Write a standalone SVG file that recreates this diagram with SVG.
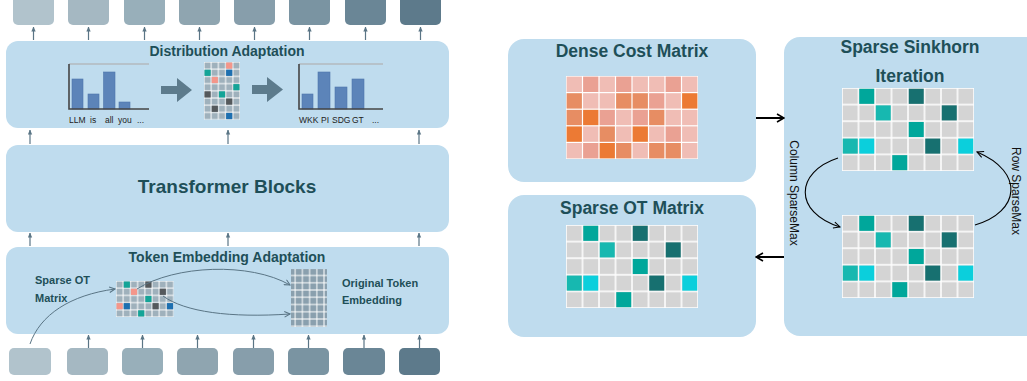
<svg xmlns="http://www.w3.org/2000/svg" xmlns:xlink="http://www.w3.org/1999/xlink" width="1027" height="381" viewBox="0 0 1027 381">
<style>
.panel{fill:#bfdcee}
.t{font-family:"Liberation Sans",Arial,sans-serif;font-weight:bold;fill:#1e4f58}
.lab{font-family:"Liberation Sans",Arial,sans-serif;font-size:8.5px;fill:#222}
.rot{font-family:"Liberation Sans",Arial,sans-serif;font-size:12px;fill:#111}
.sl{stroke:#5a7585;stroke-width:1.2;fill:none}
.bk{stroke:#000;fill:none}
.bar{fill:#5c84b9;stroke:#4f77ab;stroke-width:0.6}
.ax{stroke:#454545;stroke-width:1.6;fill:none}
.topl{stroke:#b3babe;stroke-width:1.5}
.fat{fill:#5d7b8c}
.sal{fill:#f4968a}.tea{fill:#14a497}.blu{fill:#1d6fb0}.drk{fill:#55595c}
.T{fill:#00a79b}.D{fill:#177070}.LT{fill:#17b8b0}.C{fill:#0bcfdc}
.L{fill:#f0bdb5}.M{fill:#eaa193}.O{fill:#e78d63}.S{fill:#ec7a34}
</style>
<defs>
<pattern id="gL" width="16.5" height="16.6" patternUnits="userSpaceOnUse"><rect width="16.5" height="16.6" fill="#fff"/><rect x="0.75" y="0.75" width="15" height="15.1" fill="#d4d4d4"/></pattern>
<pattern id="gS" width="7.2" height="7.2" patternUnits="userSpaceOnUse"><rect width="7.2" height="7.2" fill="#fff"/><rect x="0.5" y="0.5" width="6.2" height="6.2" fill="#9fb1bc"/></pattern>
<pattern id="gE" width="7.2" height="7.25" patternUnits="userSpaceOnUse"><rect width="7.2" height="7.25" fill="#fff"/><rect x="0.5" y="0.5" width="6.2" height="6.25" fill="#8aa0ae"/></pattern>
<marker id="sa" viewBox="0 0 6 6" refX="5.5" refY="3" markerWidth="5" markerHeight="5" orient="auto" markerUnits="userSpaceOnUse"><path d="M0,0.4 L6,3 L0,5.6z" fill="#5a7585"/></marker>
<marker id="sc" viewBox="0 0 10 10" refX="9" refY="5" markerWidth="7" markerHeight="7" orient="auto" markerUnits="userSpaceOnUse"><path d="M1,1 L9,5 L1,9" fill="none" stroke="#5a7585" stroke-width="1.5"/></marker>
<marker id="ah" viewBox="0 0 10 10" refX="9" refY="5" markerWidth="10" markerHeight="10" orient="auto" markerUnits="userSpaceOnUse"><path d="M2,1 L9,5 L2,9" fill="none" stroke="#000" stroke-width="1.6"/></marker>
<marker id="ac" viewBox="0 0 10 10" refX="9" refY="5" markerWidth="8" markerHeight="8" orient="auto" markerUnits="userSpaceOnUse"><path d="M1,1 L9,5 L1,9" fill="none" stroke="#000" stroke-width="1.3"/></marker>
<g id="sparseM">
<rect width="132" height="83" fill="url(#gL)"/>
<rect class="T" x="17.25" y="0.75" width="15" height="15.1"/>
<rect class="D" x="66.75" y="0.75" width="15" height="15.1"/>
<rect class="LT" x="33.75" y="17.35" width="15" height="15.1"/>
<rect class="D" x="99.75" y="17.35" width="15" height="15.1"/>
<rect class="T" x="66.75" y="33.95" width="15" height="15.1"/>
<rect class="LT" x="0.75" y="50.55" width="15" height="15.1"/>
<rect class="C" x="17.25" y="50.55" width="15" height="15.1"/>
<rect class="D" x="83.25" y="50.55" width="15" height="15.1"/>
<rect class="C" x="116.25" y="50.55" width="15" height="15.1"/>
<rect class="T" x="50.25" y="67.15" width="15" height="15.1"/>
</g>
</defs>

<g id="outputs">
<rect x="13" y="-4" width="41" height="29" rx="5" fill="#b1c3cc"/>
<rect x="68" y="-4" width="41" height="29" rx="5" fill="#a5b8c2"/>
<rect x="124" y="-4" width="41" height="29" rx="5" fill="#98afba"/>
<rect x="179" y="-4" width="41" height="29" rx="5" fill="#8fa5b0"/>
<rect x="234" y="-4" width="41" height="29" rx="5" fill="#879eab"/>
<rect x="289" y="-4" width="41" height="29" rx="5" fill="#7a94a2"/>
<rect x="345" y="-4" width="41" height="29" rx="5" fill="#6a8696"/>
<rect x="400" y="-4" width="41" height="29" rx="5" fill="#5d7a8b"/>
</g>

<g id="distribution-adaptation">
<rect class="panel" x="6" y="41" width="443" height="87" rx="12"/>
<text class="t" x="227" y="56" font-size="14" text-anchor="middle">Distribution Adaptation</text>
<line class="topl" x1="69" y1="64" x2="149" y2="64"/>
<rect class="bar" x="72" y="79" width="11" height="30"/>
<rect class="bar" x="88" y="94" width="11" height="15"/>
<rect class="bar" x="103.5" y="72" width="11.5" height="37"/>
<rect class="bar" x="119" y="102" width="11" height="7"/>
<path class="ax" d="M69,64 V109 H149"/>
<text class="lab" x="69" y="123">LLM</text>
<text class="lab" x="90" y="123">is</text>
<text class="lab" x="105" y="123">all</text>
<text class="lab" x="118" y="123">you</text>
<text class="lab" x="137" y="123">...</text>
<polygon class="fat" points="161,86 177,86 177,78 192,90 177,102 177,94 161,94"/>
<g transform="translate(204,62)">
<rect width="36" height="57.6" fill="url(#gS)"/>
<rect class="sal" x="22.1" y="0.5" width="6.2" height="6.2"/>
<rect class="tea" x="0.5" y="7.7" width="6.2" height="6.2"/>
<rect class="blu" x="22.1" y="7.7" width="6.2" height="6.2"/>
<rect class="sal" x="7.7" y="14.9" width="6.2" height="6.2"/>
<rect class="tea" x="29.3" y="22.1" width="6.2" height="6.2"/>
<rect class="drk" x="0.5" y="29.3" width="6.2" height="6.2"/>
<rect class="tea" x="14.9" y="29.3" width="6.2" height="6.2"/>
<rect class="drk" x="22.1" y="36.5" width="6.2" height="6.2"/>
<rect class="drk" x="7.7" y="43.7" width="6.2" height="6.2"/>
<rect class="blu" x="22.1" y="50.9" width="6.2" height="6.2"/>
</g>
<polygon class="fat" points="252,85 267,85 267,77 283,89.5 267,102 267,94 252,94"/>
<line class="topl" x1="299" y1="64" x2="383" y2="64"/>
<rect class="bar" x="302" y="94" width="11" height="15"/>
<rect class="bar" x="318" y="72" width="12" height="37"/>
<rect class="bar" x="335" y="87" width="12" height="22"/>
<rect class="bar" x="352" y="79" width="12" height="30"/>
<path class="ax" d="M299,64 V109 H383"/>
<text class="lab" x="299" y="123">WKK</text>
<text class="lab" x="321" y="123">PI</text>
<text class="lab" x="332" y="123">SDG</text>
<text class="lab" x="352" y="123">GT</text>
<text class="lab" x="372" y="123">...</text>
</g>

<g id="transformer-blocks">
<rect class="panel" x="6" y="145" width="443" height="87" rx="12"/>
<text class="t" x="227" y="193" font-size="19" text-anchor="middle">Transformer Blocks</text>
</g>

<g id="token-embedding-adaptation">
<rect class="panel" x="6" y="247" width="443" height="87" rx="12"/>
<text class="t" x="227" y="262" font-size="14" text-anchor="middle">Token Embedding Adaptation</text>
<text class="t" x="35" y="284" font-size="11">Sparse OT</text>
<text class="t" x="35" y="302" font-size="11">Matrix</text>
<text class="t" x="342" y="287" font-size="11">Original Token</text>
<text class="t" x="342" y="304" font-size="11">Embedding</text>
<g transform="translate(116,281)">
<rect width="57.6" height="36" fill="url(#gS)"/>
<rect class="tea" x="7.7" y="0.5" width="6.2" height="6.2"/>
<rect class="drk" x="29.3" y="0.5" width="6.2" height="6.2"/>
<rect class="sal" x="14.9" y="7.7" width="6.2" height="6.2"/>
<rect class="drk" x="43.7" y="7.7" width="6.2" height="6.2"/>
<rect class="tea" x="29.3" y="14.9" width="6.2" height="6.2"/>
<rect class="sal" x="0.5" y="22.1" width="6.2" height="6.2"/>
<rect class="blu" x="7.7" y="22.1" width="6.2" height="6.2"/>
<rect class="drk" x="36.5" y="22.1" width="6.2" height="6.2"/>
<rect class="blu" x="50.9" y="22.1" width="6.2" height="6.2"/>
<rect class="tea" x="22.1" y="29.3" width="6.2" height="6.2"/>
</g>
<rect x="291" y="269" width="36" height="58" fill="url(#gE)"/>
</g>

<g id="inputs">
<rect x="9" y="348" width="42" height="27" rx="5" fill="#b1c3cc"/>
<rect x="67" y="348" width="41" height="27" rx="5" fill="#a5b8c2"/>
<rect x="122" y="348" width="41" height="27" rx="5" fill="#98afba"/>
<rect x="177" y="348" width="41" height="27" rx="5" fill="#8fa5b0"/>
<rect x="233" y="348" width="41" height="27" rx="5" fill="#879eab"/>
<rect x="288" y="348" width="41" height="27" rx="5" fill="#7a94a2"/>
<rect x="343" y="348" width="42" height="27" rx="5" fill="#6a8696"/>
<rect x="399" y="348" width="41" height="27" rx="5" fill="#5d7a8b"/>
</g>

<g id="dense-cost-matrix">
<rect class="panel" x="508" y="39" width="248" height="143" rx="16"/>
<text class="t" x="632" y="57" font-size="17.5" text-anchor="middle">Dense Cost Matrix</text>
<g transform="translate(566,76)">
<rect width="132" height="83" fill="#fff"/>
<rect class="L" x="0.6" y="0.6" width="15.3" height="15.4"/><rect class="M" x="17.1" y="0.6" width="15.3" height="15.4"/><rect class="L" x="33.6" y="0.6" width="15.3" height="15.4"/><rect class="M" x="50.1" y="0.6" width="15.3" height="15.4"/><rect class="L" x="66.6" y="0.6" width="15.3" height="15.4"/><rect class="L" x="83.1" y="0.6" width="15.3" height="15.4"/><rect class="M" x="99.6" y="0.6" width="15.3" height="15.4"/><rect class="L" x="116.1" y="0.6" width="15.3" height="15.4"/>
<rect class="O" x="0.6" y="17.2" width="15.3" height="15.4"/><rect class="L" x="17.1" y="17.2" width="15.3" height="15.4"/><rect class="L" x="33.6" y="17.2" width="15.3" height="15.4"/><rect class="O" x="50.1" y="17.2" width="15.3" height="15.4"/><rect class="O" x="66.6" y="17.2" width="15.3" height="15.4"/><rect class="M" x="83.1" y="17.2" width="15.3" height="15.4"/><rect class="L" x="99.6" y="17.2" width="15.3" height="15.4"/><rect class="S" x="116.1" y="17.2" width="15.3" height="15.4"/>
<rect class="O" x="0.6" y="33.8" width="15.3" height="15.4"/><rect class="S" x="17.1" y="33.8" width="15.3" height="15.4"/><rect class="M" x="33.6" y="33.8" width="15.3" height="15.4"/><rect class="L" x="50.1" y="33.8" width="15.3" height="15.4"/><rect class="M" x="66.6" y="33.8" width="15.3" height="15.4"/><rect class="O" x="83.1" y="33.8" width="15.3" height="15.4"/><rect class="L" x="99.6" y="33.8" width="15.3" height="15.4"/><rect class="L" x="116.1" y="33.8" width="15.3" height="15.4"/>
<rect class="S" x="0.6" y="50.4" width="15.3" height="15.4"/><rect class="L" x="17.1" y="50.4" width="15.3" height="15.4"/><rect class="O" x="33.6" y="50.4" width="15.3" height="15.4"/><rect class="L" x="50.1" y="50.4" width="15.3" height="15.4"/><rect class="S" x="66.6" y="50.4" width="15.3" height="15.4"/><rect class="L" x="83.1" y="50.4" width="15.3" height="15.4"/><rect class="M" x="99.6" y="50.4" width="15.3" height="15.4"/><rect class="L" x="116.1" y="50.4" width="15.3" height="15.4"/>
<rect class="L" x="0.6" y="67" width="15.3" height="15.4"/><rect class="M" x="17.1" y="67" width="15.3" height="15.4"/><rect class="S" x="33.6" y="67" width="15.3" height="15.4"/><rect class="O" x="50.1" y="67" width="15.3" height="15.4"/><rect class="L" x="66.6" y="67" width="15.3" height="15.4"/><rect class="O" x="83.1" y="67" width="15.3" height="15.4"/><rect class="O" x="99.6" y="67" width="15.3" height="15.4"/><rect class="L" x="116.1" y="67" width="15.3" height="15.4"/>
</g>
</g>

<g id="sparse-ot-matrix">
<rect class="panel" x="508" y="195" width="248" height="142" rx="16"/>
<text class="t" x="632" y="214" font-size="17.5" text-anchor="middle">Sparse OT Matrix</text>
<use href="#sparseM" x="566" y="225"/>
</g>

<g id="sparse-sinkhorn-iteration">
<rect class="panel" x="784" y="37" width="262" height="299" rx="16"/>
<text class="t" x="910" y="53" font-size="17.5" text-anchor="middle">Sparse Sinkhorn</text>
<text class="t" x="910" y="82" font-size="17.5" text-anchor="middle">Iteration</text>
<use href="#sparseM" x="842" y="88"/>
<use href="#sparseM" x="842" y="215"/>
<text class="rot" transform="translate(790,193) rotate(90)" text-anchor="middle">Column SparseMax</text>
<text class="rot" transform="translate(1012,191) rotate(90)" text-anchor="middle">Row SparseMax</text>
</g>

<g id="connectors">
<g marker-end="url(#sa)" class="sl">
<line x1="33.5" y1="40" x2="33.5" y2="27"/>
<line x1="88.5" y1="40" x2="88.5" y2="27"/>
<line x1="144.5" y1="40" x2="144.5" y2="27"/>
<line x1="199.5" y1="40" x2="199.5" y2="27"/>
<line x1="254.5" y1="40" x2="254.5" y2="27"/>
<line x1="309.5" y1="40" x2="309.5" y2="27"/>
<line x1="365.5" y1="40" x2="365.5" y2="27"/>
<line x1="420.5" y1="40" x2="420.5" y2="27"/>
<line x1="30" y1="144" x2="30" y2="130"/>
<line x1="228" y1="144" x2="228" y2="130"/>
<line x1="419" y1="144" x2="419" y2="130"/>
<line x1="30" y1="246" x2="30" y2="233"/>
<line x1="228" y1="246" x2="228" y2="233"/>
<line x1="419" y1="246" x2="419" y2="233"/>
<line x1="88.5" y1="348" x2="88.5" y2="335"/>
<line x1="142.5" y1="348" x2="142.5" y2="335"/>
<line x1="197.5" y1="348" x2="197.5" y2="335"/>
<line x1="253.5" y1="348" x2="253.5" y2="335"/>
<line x1="308.5" y1="348" x2="308.5" y2="335"/>
<line x1="364" y1="348" x2="364" y2="335"/>
<line x1="419.5" y1="348" x2="419.5" y2="335"/>
</g>
<g class="sl" marker-end="url(#sc)" style="stroke-width:1">
<path d="M30,344 C40,315 70,295 115,289"/>
<path d="M137,289 C175,265 250,262 290,285"/>
<path d="M163,296 C185,312 230,318 290,314"/>
</g>
<line class="bk" x1="756" y1="118" x2="784" y2="118" stroke-width="2" marker-end="url(#ah)"/>
<line class="bk" x1="784" y1="257" x2="756" y2="257" stroke-width="2" marker-end="url(#ah)"/>
<path class="bk" d="M838,158 C795,172 793,212 840,227" stroke-width="1.1" marker-end="url(#ac)"/>
<path class="bk" d="M975,225 C1020,212 1025,172 977,152" stroke-width="1.1" marker-end="url(#ac)"/>
</g>
</svg>
